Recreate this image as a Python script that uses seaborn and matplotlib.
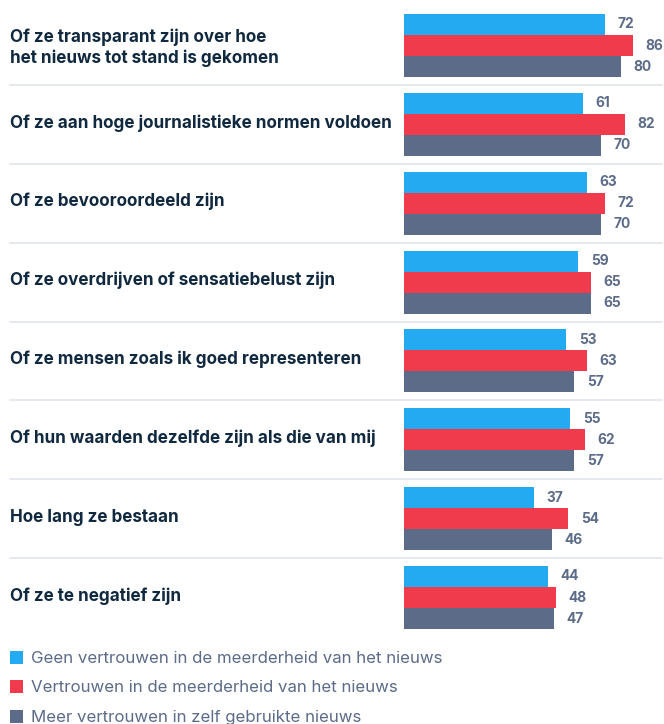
import matplotlib
matplotlib.use("Agg")
import matplotlib.pyplot as plt
from matplotlib.patches import Rectangle
import pandas as pd
import seaborn as sns

# --- data -------------------------------------------------------------
categories = [
    "Of ze transparant zijn over hoe\nhet nieuws tot stand is gekomen",
    "Of ze aan hoge journalistieke normen voldoen",
    "Of ze bevooroordeeld zijn",
    "Of ze overdrijven of sensatiebelust zijn",
    "Of ze mensen zoals ik goed representeren",
    "Of hun waarden dezelfde zijn als die van mij",
    "Hoe lang ze bestaan",
    "Of ze te negatief zijn",
]
series_names = [
    "Geen vertrouwen in de meerderheid van het nieuws",
    "Vertrouwen in de meerderheid van het nieuws",
    "Meer vertrouwen in zelf gebruikte nieuws",
]
geen_vertrouwen = [72, 61, 63, 59, 53, 55, 37, 44]
vertrouwen = [86, 82, 72, 65, 63, 62, 54, 48]
meer_vertrouwen = [80, 70, 70, 65, 57, 57, 46, 47]

colors = ["#23AAF1", "#F03B4D", "#5B6B88"]
label_color = "#10293F"
value_color = "#5B6B88"

# --- long-form table --------------------------------------------------
rows = []
for name, vals in zip(series_names, [geen_vertrouwen, vertrouwen, meer_vertrouwen]):
    for cat, v in zip(categories, vals):
        rows.append({"categorie": cat, "reeks": name, "waarde": v})
df = pd.DataFrame(rows)

sns.set_theme(style="white")
plt.rcParams["font.family"] = ["Inter", "DejaVu Sans"]

W, H = 664, 724
fig = plt.figure(figsize=(W / 100, H / 100), dpi=100)
ax = fig.add_axes([0, 0, 1, 1])

sns.barplot(
    data=df, y="categorie", x="waarde", hue="reeks",
    order=categories, hue_order=series_names, palette=colors,
    orient="h", width=0.8, legend=False, ax=ax, errorbar=None,
    saturation=1,
)

# bars start a bit left of zero to leave a visible stub
BASE = -27.3
for p in ax.patches:
    w = p.get_width()
    p.set_x(BASE)
    p.set_width(w - BASE)
    p.set_linewidth(0)

# pixel scale: zero at x=459.3 px, 2.02 px per point
x0_px, ppu = 459.3, 2.02
ax.set_xlim(-x0_px / ppu, (W - x0_px) / ppu)
gap = 78.86
top_px = 45.5
ax.set_ylim((H - top_px) / gap, -top_px / gap)

for cont in ax.containers:
    ax.bar_label(cont, labels=[f"{v:.0f}" for v in cont.datavalues],
                 padding=9, color=value_color, fontsize=9.9,
                 fontweight="bold")

# category labels on the left
for i, cat in enumerate(categories):
    dy = 0.025 if "\n" in cat else -0.02
    ax.text(10 / W, i + dy, cat, transform=ax.get_yaxis_transform(),
            ha="left", va="center", fontsize=12.3, fontweight="bold",
            color=label_color, linespacing=1.25)

# thin separators between groups
for i in range(len(categories) - 1):
    ax.axhline(i + 0.5, xmin=10 / W, xmax=662 / W, color="#E3E7EE",
               lw=1.3, zorder=0)

ax.set_axis_off()

# legend
leg_rows = [657, 686.5, 716]
for name, c, yc in zip(series_names, colors, leg_rows):
    fig.patches.append(Rectangle((10 / W, 1 - (yc + 6.5) / H), 13 / W, 13 / H,
                                 transform=fig.transFigure, color=c,
                                 lw=0))
    fig.text(31 / W, 1 - yc / H, name, ha="left", va="center_baseline",
             fontsize=12.1, color=value_color)

fig.savefig("out.png", dpi=100)
